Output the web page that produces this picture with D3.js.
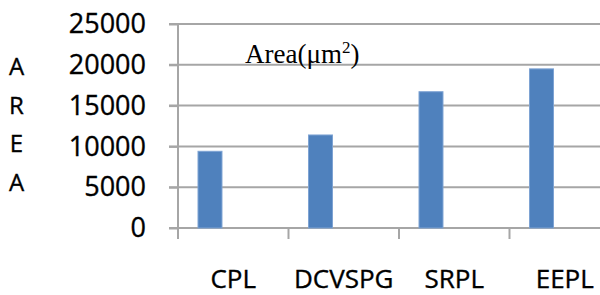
<!DOCTYPE html>
<html>
<head>
<meta charset="utf-8">
<script src="https://cdn.jsdelivr.net/npm/d3@7"></script>
<style>
  body { margin: 0; background: white; }
  text { font-family: "Open Sans", sans-serif; fill: #000; }
  .sans { stroke: #000; stroke-width: 0.35px; }
</style>
</head>
<body>
<div id="chart"></div>
<script>
// Datos
const categories = ["CPL", "DCVSPG", "SRPL", "EEPL"];
const areaValues = [9400, 11400, 16700, 19500];
const yTicks = [0, 5000, 10000, 15000, 20000, 25000];
const yLabel = "AREA";
const title = "Area(\u03bcm";

const width = 600;
const height = 295;

const svg = d3.select("#chart")
    .append("svg")
    .attr("width", width)
    .attr("height", height);

svg.append("rect")
    .attr("width", width)
    .attr("height", height)
    .attr("fill", "white");

// Escalas (el eje x sigue más allá del borde derecho)
const x = d3.scaleBand().domain(categories).range([178, 620]).padding(0);
const y = d3.scaleLinear().domain([0, 25000]).range([228, 24]);

// Líneas de cuadrícula
svg.append("g")
    .selectAll("line")
    .data(yTicks)
    .join("line")
    .attr("x1", 169)
    .attr("x2", width)
    .attr("y1", d => y(d))
    .attr("y2", d => y(d))
    .attr("stroke", "#a6a6a6")
    .attr("stroke-width", 2);

// Eje Y
const yAxis = d3.axisLeft(y).tickValues(yTicks).tickSize(9).tickPadding(23).tickFormat(d3.format("d"));
const gy = svg.append("g")
    .attr("transform", "translate(178,0)")
    .call(yAxis);
gy.select(".domain").remove();
gy.selectAll(".tick line").attr("stroke", "#a6a6a6").attr("stroke-width", 2);
gy.selectAll(".tick text")
    .attr("class", "sans")
    .style("font-family", "'Open Sans', sans-serif")
    .style("font-size", "27px")
    .attr("fill", "#000");

svg.append("line")
    .attr("x1", 178).attr("x2", 178)
    .attr("y1", y(25000)).attr("y2", 239)
    .attr("stroke", "#a6a6a6")
    .attr("stroke-width", 2);

// Marcas del eje X en los límites de cada banda
svg.append("g")
    .selectAll("line")
    .data(categories.slice(1))
    .join("line")
    .attr("x1", d => x(d)).attr("x2", d => x(d))
    .attr("y1", y(0)).attr("y2", 239)
    .attr("stroke", "#a6a6a6")
    .attr("stroke-width", 2);

// Barras
svg.append("g")
    .selectAll("rect")
    .data(categories)
    .join("rect")
    .attr("x", d => x(d) + x.bandwidth() * 0.181)
    .attr("width", x.bandwidth() * 0.217)
    .attr("y", (d, i) => y(areaValues[i]))
    .attr("height", (d, i) => y(0) - y(areaValues[i]))
    .attr("fill", "#4f81bd")
    .attr("stroke", "#7ea3d3")
    .attr("stroke-width", 1);

// Etiquetas de categorías
svg.append("g")
    .selectAll("text")
    .data(categories)
    .join("text")
    .attr("class", "sans")
    .attr("x", d => x(d) + x.bandwidth() / 2)
    .attr("y", 288)
    .attr("text-anchor", "middle")
    .style("font-size", "26px")
    .text(d => d);

// Título del eje Y en vertical
svg.append("g")
    .selectAll("text")
    .data(yLabel.split(""))
    .join("text")
    .attr("class", "sans")
    .attr("x", 16.5)
    .attr("y", (d, i) => 75 + i * 38.5)
    .attr("text-anchor", "middle")
    .style("font-size", "24px")
    .text(d => d);

// Título del gráfico
const t = svg.append("text")
    .attr("x", 245)
    .attr("y", 63)
    .style("font-family", "'Liberation Serif', 'Times New Roman', serif")
    .style("font-size", "27px");
t.append("tspan").text(title);
t.append("tspan").attr("dy", -10).style("font-size", "17px").text("2");
t.append("tspan").attr("dy", 10).text(")");
</script>
</body>
</html>
